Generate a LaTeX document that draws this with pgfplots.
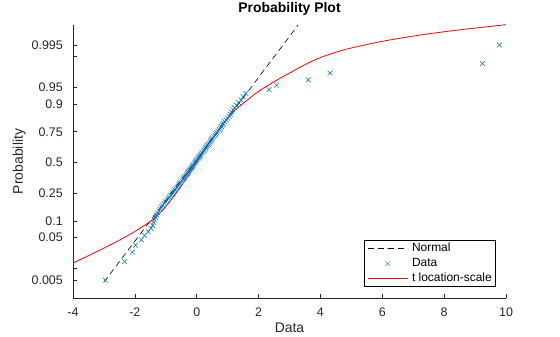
\documentclass[border=0pt]{standalone}
\usepackage{fontspec}
\setmainfont{Liberation Sans}
\usepackage{pgfplots}
\pgfplotsset{compat=1.18}
\definecolor{mblue}{rgb}{0,0.447,0.741}
\definecolor{axgray}{rgb}{0.15,0.15,0.15}
\begin{document}
\begin{tikzpicture}
\path[use as bounding box] (-73bp,-39bp) rectangle (487bp,298bp);
\begin{axis}[
  at={(0bp,0bp)}, anchor=south west,
  scale only axis, width=433bp, height=273bp,
  xmin=-4, xmax=10, ymin=-2.967, ymax=3.013,
  axis x line*=bottom, axis y line*=left,
  axis line style={axgray, line width=0.6bp},
  tick style={axgray, line width=0.6bp},
  tick align=inside, major tick length=4.5bp,
  xtick={-4,-2,0,2,4,6,8,10},
  xticklabels={-4,-2,0,2,4,6,8,10},
  ytick={-2.5758,-2.3263,-1.6449,-1.2816,-0.6745,0,0.6745,1.2816,1.6449,2.3263,2.5758},
  yticklabels={0.005,,0.05,0.1,0.25,0.5,0.75,0.9,0.95,,0.995},
  ticklabel style={font=\fontsize{12.5}{14}\selectfont, text=axgray},
  xticklabel style={anchor=base, inner sep=0pt, yshift=-18.7bp},
  yticklabel style={anchor=east, inner sep=0pt, xshift=-10bp},
  xlabel={Data}, ylabel={Probability},
  xlabel style={at={(axis description cs:0.5,-0.128)}, anchor=base, inner sep=0pt, font=\fontsize{14}{16}\selectfont, text=axgray},
  ylabel style={at={(axis description cs:-0.1155,0.5)}, anchor=base, inner sep=0pt, font=\fontsize{14}{16}\selectfont, text=axgray},
  title={Probability Plot},
  title style={at={(axis description cs:0.5,1)}, anchor=base, yshift=6.7bp, inner sep=0pt, font=\bfseries\fontsize{14}{16}\selectfont},
  legend cell align=left,
  legend style={at={(axis description cs:1,0)}, anchor=south east, xshift=-11bp, yshift=11bp,
    draw=black, line width=0.5bp, fill=white, inner xsep=3bp, inner ysep=0.5bp,
    font=\fontsize{12}{14}\selectfont, column sep=4bp, row sep=0pt,
    nodes={inner xsep=0pt, inner ysep=1.5bp, text height=9bp, text depth=3bp}},
  legend image code/.code={\draw[#1, mark repeat=2, mark phase=2] plot coordinates {(0bp,0bp) (20bp,0bp) (40bp,0bp)};},
]
\addlegendimage{black, line width=0.6bp, dash pattern=on 6bp off 4bp}
\addlegendentry{Normal}
\addlegendimage{only marks, mark=x, mark size=3.4bp, mark options={mblue, line width=0.5bp, solid}}
\addlegendentry{Data}
\addlegendimage{red, line width=0.8bp}
\addlegendentry{t location-scale}

% Data (sorted sample vs normal plotting positions)
\addplot[forget plot, only marks, mark=x, mark size=3.4bp, mark options={mblue, line width=0.5bp}] table {
x y
-2.95 -2.5758
-2.33 -2.1701
-2.08 -1.9600
-1.98 -1.8119
-1.79 -1.6954
-1.68 -1.5982
-1.57 -1.5141
-1.48 -1.4395
-1.42 -1.3722
-1.39 -1.3106
-1.36 -1.2536
-1.33 -1.2004
-1.30 -1.1503
-1.26 -1.1031
-1.22 -1.0581
-1.18 -1.0152
-1.14 -0.9741
-1.10 -0.9346
-1.05 -0.8965
-1.01 -0.8596
-0.96 -0.8239
-0.92 -0.7892
-0.88 -0.7554
-0.84 -0.7225
-0.80 -0.6903
-0.77 -0.6588
-0.74 -0.6280
-0.71 -0.5978
-0.67 -0.5681
-0.63 -0.5388
-0.60 -0.5101
-0.57 -0.4817
-0.55 -0.4538
-0.52 -0.4261
-0.48 -0.3989
-0.44 -0.3719
-0.42 -0.3451
-0.40 -0.3186
-0.37 -0.2924
-0.33 -0.2663
-0.30 -0.2404
-0.28 -0.2147
-0.26 -0.1891
-0.23 -0.1637
-0.20 -0.1383
-0.16 -0.1130
-0.14 -0.0878
-0.12 -0.0627
-0.10 -0.0376
-0.07 -0.0125
-0.04 0.0125
-0.02 0.0376
0.01 0.0627
0.04 0.0878
0.07 0.1130
0.10 0.1383
0.12 0.1637
0.14 0.1891
0.17 0.2147
0.21 0.2404
0.24 0.2663
0.27 0.2924
0.29 0.3186
0.31 0.3451
0.34 0.3719
0.38 0.3989
0.41 0.4261
0.44 0.4538
0.46 0.4817
0.48 0.5101
0.51 0.5388
0.55 0.5681
0.59 0.5978
0.62 0.6280
0.65 0.6588
0.69 0.6903
0.73 0.7225
0.77 0.7554
0.80 0.7892
0.83 0.8239
0.86 0.8596
0.90 0.8965
0.95 0.9346
1.00 0.9741
1.05 1.0152
1.09 1.0581
1.13 1.1031
1.17 1.1503
1.22 1.2004
1.29 1.2536
1.36 1.3106
1.44 1.3722
1.50 1.4395
1.59 1.5141
2.34 1.5982
2.58 1.6954
3.61 1.8119
4.31 1.9600
9.24 2.1701
9.79 2.5758
};

% Normal reference line
\addplot[forget plot, black, line width=0.6bp, dash pattern=on 6bp off 4bp] coordinates {(-3.0,-2.62) (3.28,3.013)};

% t location-scale fit
\addplot[forget plot, red, line width=0.8bp, smooth] coordinates {
(-4,-2.20) (-3.5,-2.04) (-3,-1.875) (-2.5,-1.70) (-2,-1.51) (-1.5,-1.29) (-1.25,-1.145)
(-1,-0.965) (-0.75,-0.745) (-0.5,-0.51) (-0.25,-0.255) (0,0.005) (0.25,0.26) (0.5,0.515)
(0.75,0.755) (1,0.97) (1.25,1.15) (1.5,1.295) (2,1.56) (2.5,1.77) (3,1.96) (3.5,2.145)
(4,2.30) (4.5,2.415) (5,2.51) (6,2.655) (7,2.77) (8,2.865) (9,2.945) (10,3.02)
};
\end{axis}
\end{tikzpicture}
\end{document}
